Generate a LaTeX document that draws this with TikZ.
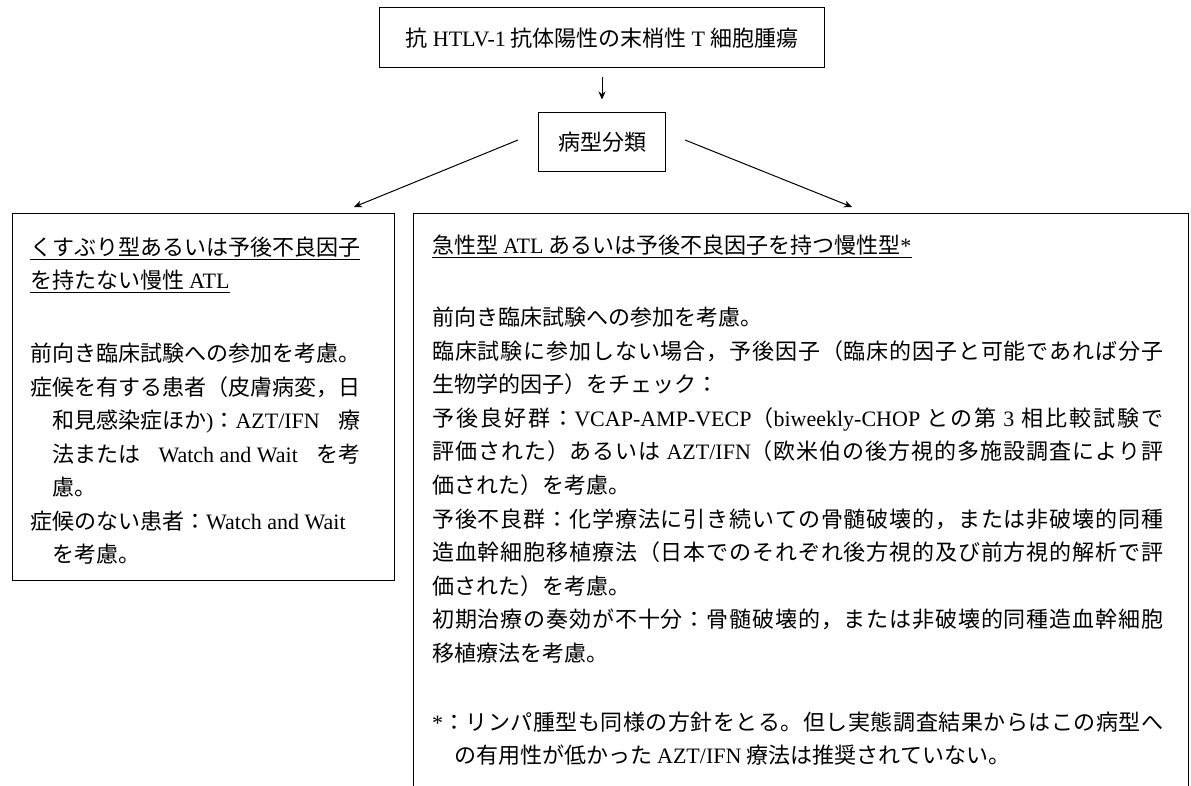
\documentclass[tikz,border=0pt]{standalone}
\usepackage{fontspec}
\setmainfont{Noto Sans CJK JP}
\newfontfamily\latfont{Liberation Serif}
\newcommand\eng[1]{{\latfont #1}}
\usetikzlibrary{arrows.meta,calc}
\XeTeXinterchartokenstate=1
\makeatletter
\count@="3000
\loop \XeTeXcharclass\count@=7 \advance\count@ by 1 \ifnum\count@<"3100 \repeat
\count@="4E00
\loop \XeTeXcharclass\count@=7 \advance\count@ by 1 \ifnum\count@<"A000 \repeat
\count@="FF00
\loop \XeTeXcharclass\count@=7 \advance\count@ by 1 \ifnum\count@<"FFF0 \repeat
\makeatother
\XeTeXinterchartoks 7 7 = {\hskip 0pt plus 3pt\relax}
\tikzset{
  box/.style={draw, line width=1pt, inner sep=0pt},
  txt/.style={anchor=base west, inner sep=0pt},
  arr/.style={-{Stealth[length=8pt,width=7pt]}, line width=1pt},
  uline/.style={line width=1pt},
  every node/.style={font=\fontsize{22}{26}\selectfont}
}
\begin{document}
\begin{tikzpicture}[x=1pt,y=-1pt]
\useasboundingbox (0,0) rectangle (1191,786);
\fill[white] (0,0) rectangle (1191,786);
\clip (0,0) rectangle (1191,786);
% boxes
\node[box, minimum width=445pt, minimum height=60pt] (top) at (602,38) {抗 \eng{HTLV-1} 抗体陽性の末梢性 \eng{T} 細胞腫瘍};
\node[box, minimum width=127pt, minimum height=59pt] (cls) at (602,142.5) {病型分類};
\node[box, minimum width=382pt, minimum height=366pt] (lbox) at (203,397) {};
\node[box, minimum width=775pt, minimum height=686pt] (rbox) at (800.5,557) {};
% connectors
\draw[arr] ([yshift=-9pt]top.south) -- ([yshift=13pt]cls.north);
\coordinate (ls) at (518,140);
\coordinate (le) at (354,207);
\coordinate (rs) at (685,140);
\coordinate (re) at (852,207);
\draw[arr] (ls) -- (le);
\draw[arr] (rs) -- (re);
% left box text
\node[txt] (lh1) at (30,255.5) {くすぶり型あるいは予後不良因子};
\node[txt] (lh2) at (30,289) {を持たない慢性 \eng{ATL}};
\draw[uline] ($(lh1.base west)+(0,4.5)$) -- ($(lh1.base east)+(0,4.5)$);
\draw[uline] ($(lh2.base west)+(0,3.5)$) -- ($(lh2.base east)+(0,3.5)$);
\node[txt] (lb1) at (30,361.5) {前向き臨床試験への参加を考慮。};
\node[txt] (lb2) at (30,395) {\makebox[330pt][s]{症候を有する患者（皮膚病変，日}};
\node[txt] (lb3) at (52,428.5) {\makebox[308pt][s]{和見感染症ほか\eng{)}：\eng{AZT/IFN}\hfill\ 療}};
\node[txt] (lb4) at (52,462) {\makebox[308pt][s]{法または\hfill\ \eng{Watch and Wait}\hfill\ を考}};
\node[txt] (lb5) at (52,495.5) {慮。};
\node[txt] (lb6) at (30,529) {症候のない患者：\eng{Watch and Wait}};
\node[txt] (lb7) at (52,562.5) {を考慮。};
% right box text
\node[txt] (rh) at (432,253.5) {急性型 \eng{ATL} あるいは予後不良因子を持つ慢性型\eng{*}};
\draw[uline] ($(rh.base west)+(0,4)$) -- ($(rh.base east)+(0,4)$);
\node[txt] (r1) at (432,325.5) {前向き臨床試験への参加を考慮。};
\node[txt] (r2) at (432,359.1) {\makebox[731pt][s]{臨床試験に参加しない場合，予後因子（臨床的因子と可能であれば分子}};
\node[txt] (r3) at (432,392.7) {生物学的因子）をチェック：};
\node[txt] (r4) at (432,426.3) {\makebox[731pt][s]{予後良好群：\eng{VCAP-AMP-VECP}（\eng{biweekly-CHOP} との第 \eng{3} 相比較試験で}};
\node[txt] (r5) at (432,459.9) {\makebox[731pt][s]{評価された）あるいは \eng{AZT/IFN}（欧米伯の後方視的多施設調査により評}};
\node[txt] (r6) at (432,493.5) {価された）を考慮。};
\node[txt] (r7) at (432,527.1) {\makebox[731pt][s]{予後不良群：化学療法に引き続いての骨髄破壊的，または非破壊的同種}};
\node[txt] (r8) at (432,560.7) {\makebox[731pt][s]{造血幹細胞移植療法（日本でのそれぞれ後方視的及び前方視的解析で評}};
\node[txt] (r9) at (432,594.3) {価された）を考慮。};
\node[txt] (r10) at (432,627.9) {\makebox[731pt][s]{初期治療の奏効が不十分：骨髄破壊的，または非破壊的同種造血幹細胞}};
\node[txt] (r11) at (432,661.5) {移植療法を考慮。};
\node[txt] (f1) at (432,730.5) {\makebox[731pt][s]{\eng{*}：リンパ腫型も同様の方針をとる。但し実態調査結果からはこの病型へ}};
\node[txt] (f2) at (454,763.5) {の有用性が低かった \eng{AZT/IFN} 療法は推奨されていない。};
\end{tikzpicture}
\end{document}
